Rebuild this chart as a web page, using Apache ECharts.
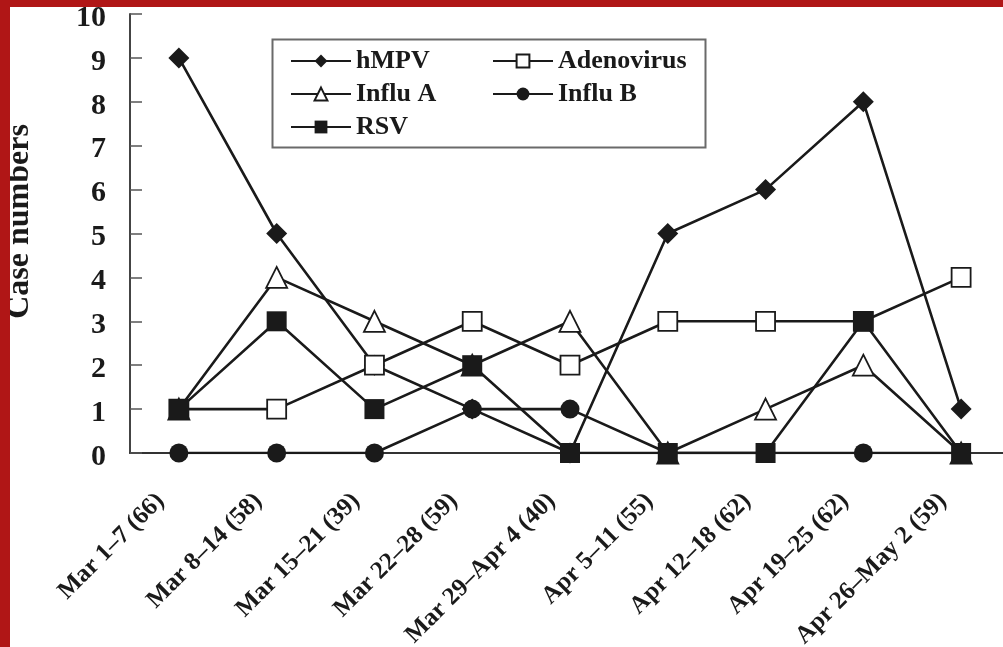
<!DOCTYPE html>
<html>
<head>
<meta charset="utf-8">
<script src="https://cdn.jsdelivr.net/npm/echarts@6/dist/echarts.min.js"></script>
<style>
  html, body { margin: 0; padding: 0; background: #fff; }
  #chart { position: absolute; left: 0; top: 0; width: 1003px; height: 647px; }
  .bar { position: absolute; background: #b01616; z-index: 10; }
</style>
</head>
<body>
<div id="chart"></div>
<div class="bar" style="left:0;top:0;width:10px;height:647px;"></div>
<div class="bar" style="left:0;top:0;width:1003px;height:7px;"></div>
<script>
const categories = ['Mar 1–7 (66)', 'Mar 8–14 (58)', 'Mar 15–21 (39)', 'Mar 22–28 (59)', 'Mar 29–Apr 4 (40)',
  'Apr 5–11 (55)', 'Apr 12–18 (62)', 'Apr 19–25 (62)', 'Apr 26–May 2 (59)'];
const hMPV       = [9, 5, 2, 1, 0, 5, 6, 8, 1];
const adenovirus = [1, 1, 2, 3, 2, 3, 3, 3, 4];
const influA     = [1, 4, 3, 2, 3, 0, 1, 2, 0];
const influB     = [0, 0, 0, 1, 1, 0, 0, 0, 0];
const rsv        = [1, 3, 1, 2, 0, 0, 0, 3, 0];
const yTicks = { min: 0, max: 10, interval: 1 };

const FONT = '"Liberation Serif", "Times New Roman", serif';
const INK = '#1a1a1a';

function mk(name, data, symbol, size, hollow) {
  return {
    name, type: 'line', data, symbol, symbolSize: size,
    showAllSymbol: true,
    lineStyle: { color: INK, width: 2.6 },
    itemStyle: hollow ? { color: '#fff', borderColor: INK, borderWidth: 1.8 } : { color: INK, borderColor: INK, borderWidth: 0 },
    emphasis: { disabled: true },
    animation: false
  };
}

const chart = echarts.init(document.getElementById('chart'), null, { renderer: 'canvas' });
const legendCommon = {
  orient: 'vertical',
  top: 43,
  itemWidth: 60,
  itemHeight: 16,
  itemGap: 7,
  textStyle: { fontFamily: FONT, fontWeight: 'bold', fontSize: 26, color: INK, lineHeight: 26 },
  selectedMode: false
};
chart.setOption({
  animation: false,
  backgroundColor: '#fff',
  grid: { left: 130, top: 14, width: 880, height: 439, containLabel: false, outerBoundsMode: 'none' },
  legend: [
    Object.assign({ left: 285, data: ['hMPV', 'Influ A', 'RSV'] }, legendCommon),
    Object.assign({ left: 487, data: ['Adenovirus', 'Influ B'] }, legendCommon)
  ],
  graphic: [{
    type: 'rect', left: 270, top: 37,
    shape: { width: 433, height: 108 },
    style: { fill: 'none', stroke: '#6a6a6a', lineWidth: 2 },
    z: 100
  }],
  xAxis: {
    type: 'category', data: categories, boundaryGap: true,
    axisLine: { lineStyle: { color: '#333', width: 2 } },
    axisTick: { inside: true, length: 8, interval: 0, lineStyle: { color: '#444', width: 1.5 } },
    axisLabel: { interval: 0, rotate: 45, margin: 26, padding: [0, 26, 0, 0], fontFamily: FONT, fontWeight: 'bold', fontSize: 25, color: INK },
    splitLine: { show: false }
  },
  yAxis: {
    type: 'value', min: yTicks.min, max: yTicks.max, interval: yTicks.interval,
    name: 'Case numbers', nameLocation: 'middle', nameGap: 94, nameRotate: 90,
    nameTextStyle: { fontFamily: FONT, fontWeight: 'bold', fontSize: 32, color: INK, padding: [0, 0, 0, 24] },
    axisLine: { show: true, lineStyle: { color: '#444', width: 2 } },
    axisTick: { show: true, inside: true, length: 12, lineStyle: { color: '#555', width: 1.5 } },
    axisLabel: { margin: 24, verticalAlign: 'top', lineHeight: 8, fontFamily: FONT, fontWeight: 'bold', fontSize: 30, color: INK },
    splitLine: { show: false }
  },
  series: [
    mk('hMPV', hMPV, 'diamond', 21, false),
    mk('Adenovirus', adenovirus, 'rect', 19, true),
    mk('Influ A', influA, 'triangle', 21, true),
    mk('Influ B', influB, 'circle', 19, false),
    mk('RSV', rsv, 'rect', 20, false)
  ]
});
</script>
</body>
</html>
